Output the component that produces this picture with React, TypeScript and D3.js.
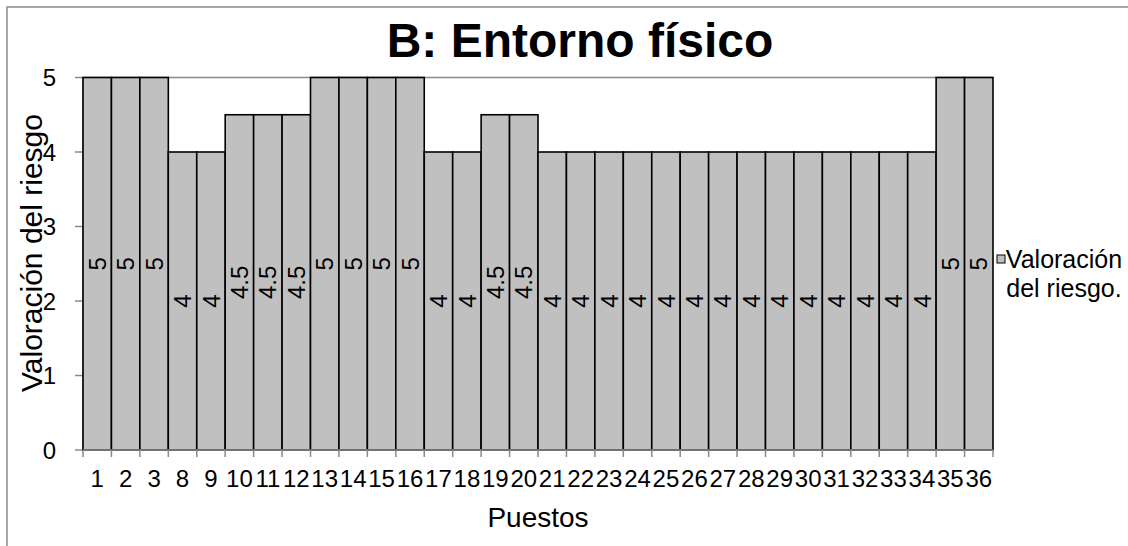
import React from "react";
import * as d3 from "d3";

const puestos = ["1","2","3","8","9","10","11","12","13","14","15","16","17","18","19","20","21","22","23","24","25","26","27","28","29","30","31","32","33","34","35","36"];
const valoracion = [5,5,5,4,4,4.5,4.5,4.5,5,5,5,5,4,4,4.5,4.5,4,4,4,4,4,4,4,4,4,4,4,4,4,4,5,5];
const yTicks = [0,1,2,3,4,5];

const W = 1128;
const H = 546;
const FONT = "Arial, 'Liberation Sans', Helvetica, sans-serif";

export default function App() {
  const x = d3.scaleBand<string>().domain(puestos).range([83, 993]).paddingInner(0).paddingOuter(0);
  const y = d3.scaleLinear().domain([0, 5]).range([450, 77.5]);
  const bw = x.bandwidth();
  const left = 83, right = 993;

  return (
    <svg width={W} height={H} style={{ position: "absolute", left: 0, top: 0, background: "#fff" }} fontFamily={FONT}>
      <rect x={7} y={7} width={W + 10} height={H + 10} fill="#fff" stroke="#8a8a8a" strokeWidth={1.5} />
      <text x={580} y={57} textAnchor="middle" fontSize={48} fontWeight="bold" fill="#000">B: Entorno físico</text>

      {/* top gridline */}
      <line x1={left} x2={right} y1={y(5)} y2={y(5)} stroke="#8a8a8a" strokeWidth={1.5} />

      {/* y axis ticks and labels */}
      {yTicks.map(t => (
        <g key={t}>
          <line x1={75} x2={left} y1={y(t)} y2={y(t)} stroke="#8a8a8a" strokeWidth={1.5} />
          <text x={56} y={y(t)} dy="0.36em" textAnchor="end" fontSize={24} fill="#000">{t}</text>
        </g>
      ))}
      <line x1={left} x2={left} y1={y(0)} y2={y(5)} stroke="#8a8a8a" strokeWidth={1.5} />

      {/* bars */}
      {puestos.map((p, i) => (
        <rect key={p} x={x(p)} y={y(valoracion[i])} width={bw} height={y(0) - y(valoracion[i])}
          fill="#c0c0c0" stroke="#000" strokeWidth={1.6} />
      ))}

      {/* x axis */}
      <line x1={left} x2={right} y1={y(0)} y2={y(0)} stroke="#8a8a8a" strokeWidth={1.5} />
      {puestos.map(p => (
        <line key={"t" + p} x1={x(p)!} x2={x(p)!} y1={y(0)} y2={y(0) + 7} stroke="#8a8a8a" strokeWidth={1.5} />
      ))}
      <line x1={right} x2={right} y1={y(0)} y2={y(0) + 7} stroke="#8a8a8a" strokeWidth={1.5} />
      {puestos.map(p => (
        <text key={"l" + p} x={x(p)! + bw / 2} y={487} textAnchor="middle" fontSize={24} fill="#000">{p}</text>
      ))}

      {/* data labels */}
      {puestos.map((p, i) => {
        const cx = x(p)! + bw / 2;
        const cy = y(valoracion[i] / 2);
        return (
          <text key={"d" + p} transform={`translate(${cx},${cy}) rotate(-90)`} textAnchor="middle" dy="0.36em"
            fontSize={24} fill="#000">{String(valoracion[i])}</text>
        );
      })}

      {/* axis titles */}
      <text transform={`translate(42,253) rotate(-90)`} textAnchor="middle" fontSize={30} fill="#000">Valoración del riesgo</text>
      <text x={538} y={527} textAnchor="middle" fontSize={28} fill="#000">Puestos</text>

      {/* legend */}
      <rect x={997} y={255} width={8} height={8} fill="#c0c0c0" stroke="#000" strokeWidth={1} />
      <text x={1064} y={268} textAnchor="middle" fontSize={25} fill="#000">Valoración</text>
      <text x={1064} y={297} textAnchor="middle" fontSize={25} fill="#000">del riesgo.</text>
    </svg>
  );
}
